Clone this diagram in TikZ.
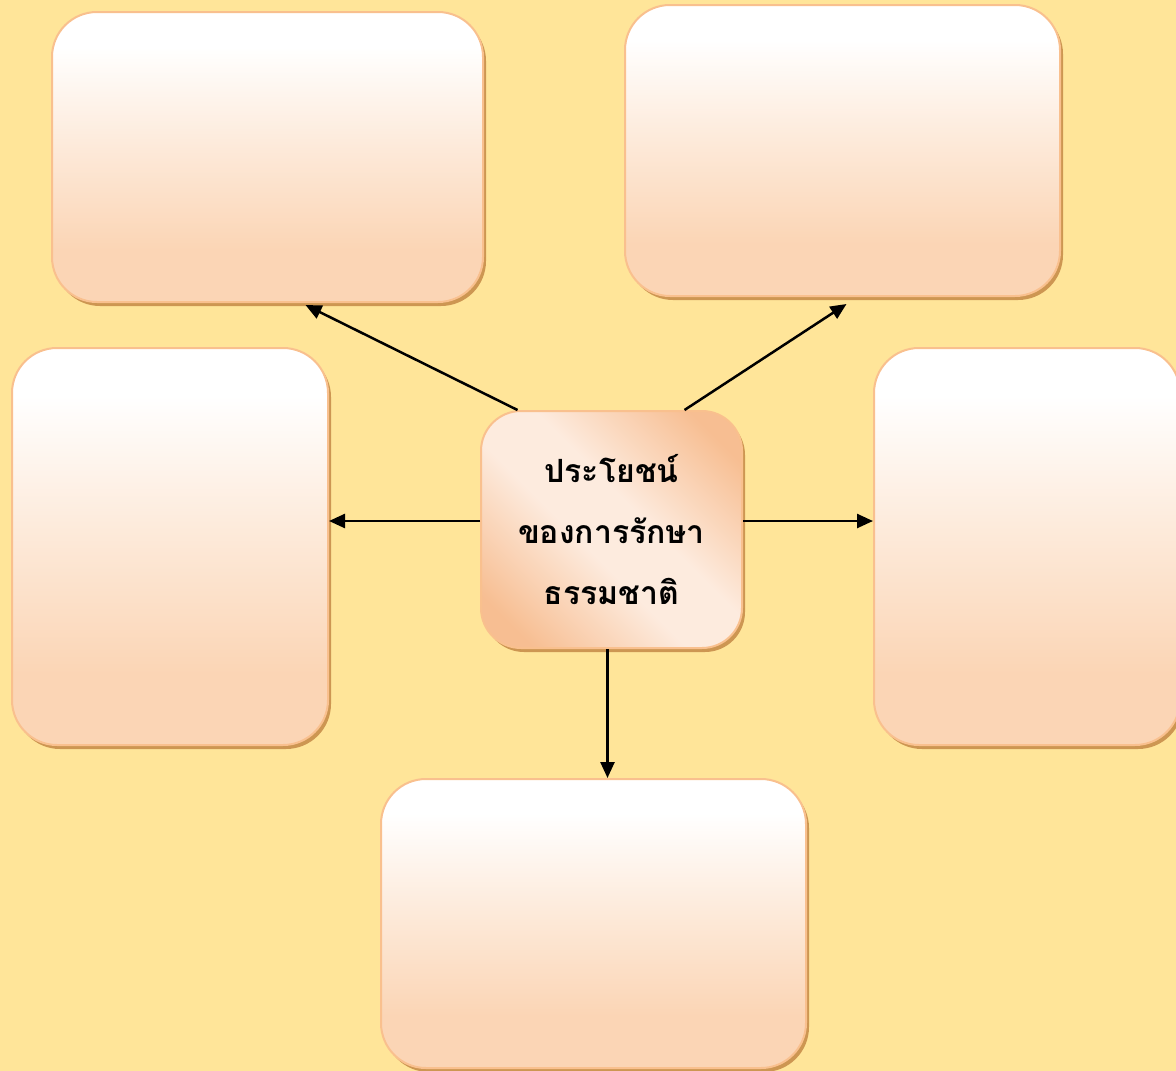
\documentclass[tikz,border=0pt]{standalone}
\usepackage{fontspec}
\newfontfamily\thaifont[Script=Thai]{Loma}
\usetikzlibrary{arrows.meta,shadows}
\definecolor{bgyellow}{RGB}{255,229,153}
\definecolor{boxborder}{RGB}{249,192,142}
\definecolor{boxshadow}{RGB}{205,150,82}
\definecolor{peach}{RGB}{251,213,181}
\definecolor{peachmid}{RGB}{253,234,218}
\definecolor{orangec}{RGB}{247,190,146}
\definecolor{lightc}{RGB}{253,235,222}
\pgfdeclareverticalshading{boxgrad}{100bp}{color(0bp)=(peach); color(25bp)=(peach); color(34bp)=(peach); color(52bp)=(peachmid); color(69bp)=(white); color(75bp)=(white); color(100bp)=(white)}
\pgfdeclareverticalshading{centergrad}{100bp}{color(0bp)=(orangec); color(22bp)=(orangec); color(44bp)=(lightc); color(56bp)=(lightc); color(78bp)=(orangec); color(100bp)=(orangec)}
\tikzset{
  outerbox/.style={draw=boxborder, line width=2pt, rounded corners=45pt,
    shading=boxgrad,
    drop shadow={shadow xshift=3pt, shadow yshift=-4pt, fill=boxshadow, opacity=1},
    inner sep=0pt},
  centerbox/.style={draw=boxborder, line width=2pt, rounded corners=40pt,
    shading=centergrad, shading angle=-45,
    drop shadow={shadow xshift=3pt, shadow yshift=-4pt, fill=boxshadow, opacity=1},
    minimum width=261pt, minimum height=237pt, inner sep=0pt, align=center,
    font=\thaifont\bfseries\fontsize{32pt}{61pt}\selectfont},
  conn/.style={line width=2.5pt, -{Triangle[length=16pt,width=14pt]}}
}
\begin{document}
\begin{tikzpicture}[x=1pt,y=-1pt]
\fill[bgyellow] (0,0) rectangle (1176,1071);
\useasboundingbox (0,0) rectangle (1176,1071);
\node[outerbox, minimum width=431pt, minimum height=290pt] (tl) at (267.5,157) {};
\node[outerbox, minimum width=435pt, minimum height=291pt] (tr) at (842.5,150.5) {};
\node[outerbox, minimum width=316pt, minimum height=397pt] (lf) at (170,546.5) {};
\node[outerbox, minimum width=306pt, minimum height=397pt] (rt) at (1027,546.5) {};
\node[outerbox, minimum width=425pt, minimum height=289pt] (bt) at (593.5,923.5) {};
\node[centerbox] (c) at (611.5,529.5) {ประโยชน์\\ของการรักษา\\ธรรมชาติ};
\draw[conn] ([xshift=-94pt]c.north) -- ([xshift=38pt,yshift=-2pt]tl.south);
\draw[conn] ([xshift=73pt]c.north) -- ([xshift=4pt,yshift=-7pt]tr.south);
\draw[conn] ([yshift=8.5pt]c.west) -- ([yshift=25.5pt]lf.east);
\draw[conn] ([yshift=8.5pt]c.east) -- ([yshift=25.5pt]rt.west);
\draw[conn] ([xshift=-4pt]c.south) -- ([xshift=14pt]bt.north);
\end{tikzpicture}
\end{document}
